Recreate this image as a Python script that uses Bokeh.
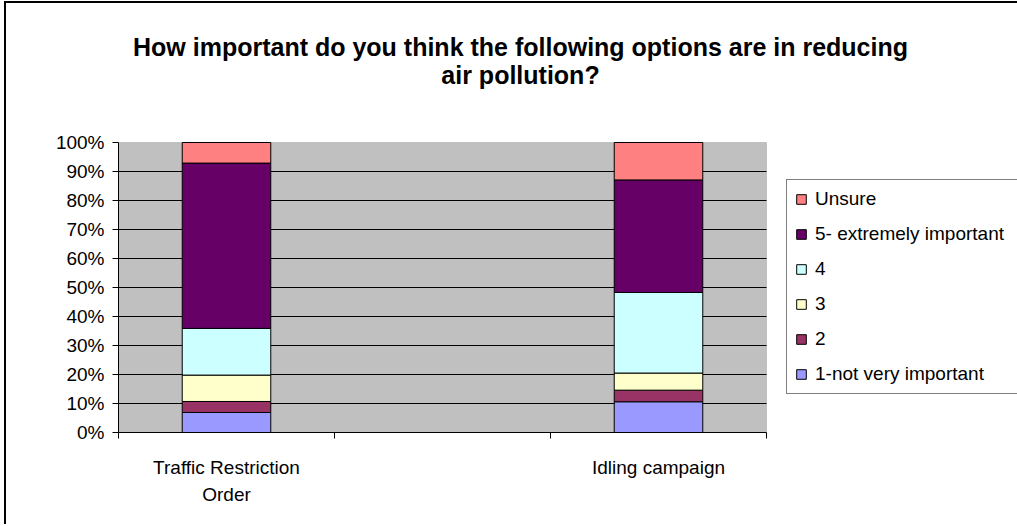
import textwrap

import numpy as np
from bokeh.embed import file_html
from bokeh.models import (BoxAnnotation, ColumnDataSource, FixedTicker, Label, Legend,
                          LegendItem, PrintfTickFormatter, Range1d)
from bokeh.plotting import figure
from bokeh.resources import INLINE

# Survey answers (percent of respondents); the middle slot is an empty column
categories = ["Traffic Restriction Order", "", "Idling campaign"]
levels = ["1-not very important", "2", "3", "4", "5- extremely important", "Unsure"]
not_very_important = [6.9, np.nan, 10.6]
rating_2 = [3.8, np.nan, 4.0]
rating_3 = [9.1, np.nan, 5.9]
rating_4 = [16.1, np.nan, 27.8]
extremely_important = [57.0, np.nan, 38.8]
unsure = [7.1, np.nan, 12.9]
colors = ["#9999FF", "#993366", "#FFFFCC", "#CCFFFF", "#660066", "#FF8080"]
y_ticks = list(range(0, 101, 10))

title_lines = ["How important do you think the following options are in reducing",
               "air pollution?"]

FONT = "Liberation Sans"

# canvas layout (pixels): the frame reaches the top and right edges so the
# title and legend can sit inside it; the grey plot area is 648 x 290 px
W, H = 1013, 523
LEFT, BOTTOM = 112, 94
PLOT_W, PLOT_H = 648, 290
frame_w, frame_h = W - LEFT, H - BOTTOM

series = [not_very_important, rating_2, rating_3, rating_4, extremely_important, unsure]
n = len(categories)
centers = np.arange(n) + 0.5
tick_labels = {float(c): textwrap.fill(name, 20) for c, name in zip(centers, categories)}

p = figure(width=W, height=H, output_backend="svg", toolbar_location=None,
           x_range=Range1d(0, n * frame_w / PLOT_W),
           y_range=Range1d(0, 100 * frame_h / PLOT_H),
           min_border_left=LEFT, min_border_right=0, min_border_top=0,
           min_border_bottom=BOTTOM)
p.styles = {"margin-left": "4px", "margin-top": "1px",
            "border-left": "2px solid black", "border-top": "2px solid black"}

p.background_fill_color = "white"
p.border_fill_color = "white"
p.outline_line_color = None
p.grid.visible = False

# grey plot area
p.add_layout(BoxAnnotation(left=0, right=n, bottom=0, top=100,
                           fill_color="#C0C0C0", fill_alpha=1,
                           line_color="#808080", line_width=1, level="underlay"))

# horizontal gridlines across the plot area
grid_y = y_ticks[1:-1]
p.segment(x0=[0] * len(grid_y), x1=[n] * len(grid_y), y0=grid_y, y1=grid_y,
          line_color="black", line_width=1)

# stacked columns
source = ColumnDataSource(dict(x=centers))
bottom = np.zeros(n)
renderers = []
for k, (name, vals, color) in enumerate(zip(levels, series, colors)):
    top = bottom + np.asarray(vals, dtype=float)
    source.data[f"b_{k}"] = bottom
    source.data[f"t_{k}"] = top
    r = p.vbar(x="x", bottom=f"b_{k}", top=f"t_{k}", width=0.41, source=source,
               fill_color=color, line_color="black", line_width=1)
    renderers.append(r)
    bottom = top

# axes
yax = p.yaxis[0]
yax.bounds = (0, 100)
yax.ticker = FixedTicker(ticks=y_ticks)
yax.formatter = PrintfTickFormatter(format="%d%%")
yax.major_tick_out = 6
yax.major_tick_in = 0
yax.minor_tick_out = 0
yax.minor_tick_in = 0
yax.axis_line_color = "black"
yax.major_tick_line_color = "black"
yax.major_label_text_font = FONT
yax.major_label_text_font_size = "19px"
yax.major_label_text_color = "black"
yax.major_label_standoff = 8

xax = p.xaxis[0]
xax.bounds = (0, n)
xax.ticker = FixedTicker(ticks=list(centers), minor_ticks=list(np.arange(n + 1)))
xax.major_label_overrides = tick_labels
xax.major_tick_out = 0
xax.major_tick_in = 0
xax.minor_tick_out = 6
xax.minor_tick_in = 0
xax.minor_tick_line_color = "black"
xax.axis_line_color = "black"
xax.major_label_text_font = FONT
xax.major_label_text_font_size = "19px"
xax.major_label_text_color = "black"
xax.major_label_text_line_height = 1.3
xax.major_label_standoff = 18

# two-line title
for i, line in enumerate(title_lines):
    p.add_layout(Label(x=402, y=386 - 28 * i, x_units="screen", y_units="screen",
                       text=line, text_align="center", text_baseline="middle",
                       text_font=FONT, text_font_style="bold",
                       text_font_size="25px", text_color="black"))

legend = Legend(items=[LegendItem(label=name, renderers=[r])
                       for name, r in reversed(list(zip(levels, renderers)))],
                location=(668, 38))
legend.label_text_font = FONT
legend.label_text_font_size = "19px"
legend.label_text_color = "black"
legend.glyph_width = 12
legend.glyph_height = 12
legend.label_height = 22
legend.label_width = 215
legend.label_standoff = 8
legend.spacing = 13
legend.padding = 8
legend.margin = 0
legend.border_line_color = "black"
legend.border_line_width = 1.5
legend.background_fill_color = "white"
legend.background_fill_alpha = 1
p.add_layout(legend)

open("out.html", "w").write(file_html(p, INLINE))
